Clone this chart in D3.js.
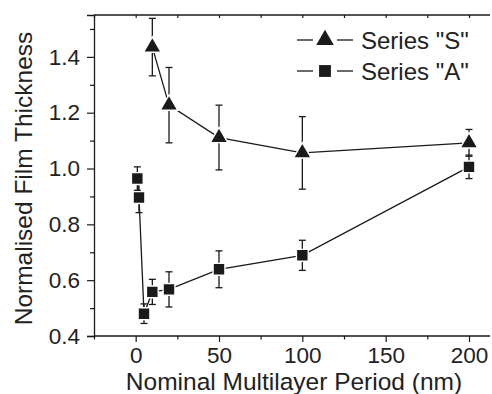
<!DOCTYPE html>
<html>
<head>
<meta charset="utf-8">
<script src="https://cdn.jsdelivr.net/npm/d3@7"></script>
<style>
  body { margin: 0; background: #fff; }
  text { font-family: "Liberation Sans", Arial, sans-serif; fill: #222; }
</style>
</head>
<body>
<svg id="chart"></svg>
<script>
// Nominal multilayer period (nm)
const periodS = [10, 20, 50, 100, 200];
const thickS = [1.435, 1.227, 1.111, 1.056, 1.092];
const errS = [0.103, 0.135, 0.116, 0.13, 0.048];

const periodA = [1, 2, 5, 10, 20, 50, 100, 200];
const thickA = [0.964, 0.896, 0.48, 0.558, 0.567, 0.639, 0.689, 1.006];
const errA = [0.042, 0.054, 0.035, 0.045, 0.063, 0.066, 0.054, 0.042];

const xTicks = [0, 50, 100, 150, 200];
const yTicks = [0.4, 0.6, 0.8, 1.0, 1.2, 1.4];

const width = 492, height = 394;
const margin = { top: 15, right: 2, bottom: 58, left: 94 };

const svg = d3.select("#chart").attr("width", width).attr("height", height);

const x = d3.scaleLinear().domain([-25, 212.6]).range([margin.left, width - margin.right]);
const y = d3.scaleLinear().domain([0.4, 1.55]).range([height - margin.bottom, margin.top]);

const ink = "#1a1a1a";

// Axes
const xAxis = svg.append("g")
  .attr("transform", `translate(0,${height - margin.bottom})`)
  .call(d3.axisBottom(x).tickValues(xTicks).tickSize(6).tickPadding(5).tickFormat(d3.format("d")));
const xMinor = svg.append("g")
  .attr("transform", `translate(0,${height - margin.bottom})`)
  .call(d3.axisBottom(x).tickValues([-25, 25, 75, 125, 175]).tickSize(3.5).tickFormat(""));
const xTop = svg.append("g")
  .attr("transform", `translate(0,${margin.top})`)
  .call(d3.axisTop(x).tickValues(d3.range(-25, 212, 25)).tickSize(-3).tickFormat(""));

const yAxis = svg.append("g")
  .attr("transform", `translate(${margin.left},0)`)
  .call(d3.axisLeft(y).tickValues(yTicks).tickSize(7).tickPadding(7).tickFormat(d3.format(".1f")));
const yMinor = svg.append("g")
  .attr("transform", `translate(${margin.left},0)`)
  .call(d3.axisLeft(y).tickValues([0.5, 0.7, 0.9, 1.1, 1.3, 1.5]).tickSize(4).tickFormat(""));

[xAxis, xMinor, xTop, yAxis, yMinor].forEach(g => {
  g.selectAll(".domain").attr("stroke", ink).attr("stroke-width", 1.3);
  g.selectAll(".tick line").attr("stroke", ink).attr("stroke-width", 1.2);
  g.selectAll(".tick text").style("font-size", "22.5px").attr("fill", "#222");
});
xAxis.selectAll(".domain").attr("d", `M${margin.left},0H${width - margin.right}`);
xTop.selectAll(".domain").attr("d", `M${margin.left},0H${width - margin.right}`);
xMinor.selectAll(".domain").remove();
yMinor.selectAll(".domain").remove();

// Axis titles
svg.append("text")
  .attr("x", (126 + 462) / 2)
  .attr("y", 390)
  .attr("text-anchor", "middle")
  .style("font-size", "24.5px")
  .text("Nominal Multilayer Period (nm)");

svg.append("text")
  .attr("transform", `translate(32,178.5) rotate(-90)`)
  .attr("text-anchor", "middle")
  .style("font-size", "24.5px")
  .text("Normalised Film Thickness");

const seriesS = periodS.map((p, i) => ({ x: p, y: thickS[i], e: errS[i] }));
const seriesA = periodA.map((p, i) => ({ x: p, y: thickA[i], e: errA[i] }));

const triangle = d3.symbol().type(d3.symbolTriangle).size(135);
const square = d3.symbol().type(d3.symbolSquare).size(140);

function drawErrors(data) {
  const g = svg.append("g").attr("stroke", ink).attr("stroke-width", 1.3);
  data.forEach(d => {
    const cx = x(d.x);
    g.append("line").attr("x1", cx).attr("x2", cx).attr("y1", y(d.y - d.e)).attr("y2", y(d.y + d.e));
    [d.y - d.e, d.y + d.e].forEach(v => {
      g.append("line").attr("x1", cx - 3.5).attr("x2", cx + 3.5).attr("y1", y(v)).attr("y2", y(v));
    });
  });
}

function drawSeries(data, sym) {
  svg.append("path")
    .datum(data)
    .attr("fill", "none")
    .attr("stroke", ink)
    .attr("stroke-width", 1.3)
    .attr("d", d3.line().x(d => x(d.x)).y(d => y(d.y)));
  svg.append("g").selectAll("path")
    .data(data)
    .join("path")
    .attr("transform", d => `translate(${x(d.x)},${y(d.y)})`)
    .attr("d", sym)
    .attr("fill", ink)
    .attr("stroke", "#fff")
    .attr("stroke-width", 1.4);
}

drawErrors(seriesS);
drawErrors(seriesA);
drawSeries(seriesA, square);
drawSeries(seriesS, triangle);

// Legend
const legend = [
  { label: 'Series "S"', sym: triangle, y: 40 },
  { label: 'Series "A"', sym: square, y: 71 }
];
legend.forEach(l => {
  [[297, 313], [337, 353]].forEach(([a, b]) => {
    svg.append("line")
      .attr("x1", a).attr("x2", b).attr("y1", l.y).attr("y2", l.y)
      .attr("stroke", ink).attr("stroke-width", 1.3);
  });
  svg.append("path")
    .attr("transform", `translate(325,${l.y})`)
    .attr("d", l.sym)
    .attr("fill", ink);
  svg.append("text")
    .attr("x", 361)
    .attr("y", l.y + 8.5)
    .style("font-size", "24px")
    .text(l.label);
});
</script>
</body>
</html>
